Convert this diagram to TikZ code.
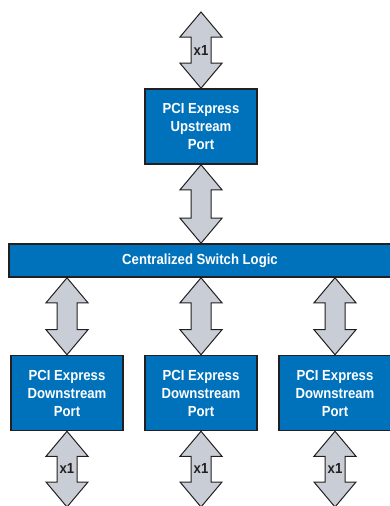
\documentclass[tikz,border=0pt]{standalone}
\usepackage{fontspec}
\setmainfont{Liberation Sans}[FakeStretch=0.9]
\usetikzlibrary{calc}
\definecolor{portblue}{RGB}{0,114,188}
\definecolor{linkgray}{RGB}{201,206,214}
\definecolor{edgeblack}{RGB}{35,31,32}
\tikzset{
  port/.style={draw=edgeblack, line width=1.6pt, fill=portblue, text=white,
    font=\bfseries\fontsize{14.6}{18}\selectfont, align=center,
    minimum width=112pt, minimum height=75pt, inner sep=0pt},
  link/.style={draw=edgeblack, line width=1pt, fill=linkgray,
    to path={let \p1=(\tikztostart), \p2=(\tikztotarget) in
      -- (\x1+21pt,\y1-25pt) -- (\x1+10pt,\y1-25pt) -- (\x1+10pt,\y2+25pt)
      -- (\x1+21pt,\y2+25pt) -- (\x2,\y2) -- (\x1-21pt,\y2+25pt)
      -- (\x1-10pt,\y2+25pt) -- (\x1-10pt,\y1-25pt) -- (\x1-21pt,\y1-25pt) -- cycle}},
  lanes/.style={text=edgeblack, font=\bfseries\fontsize{14.6}{16}\selectfont, inner sep=0pt}
}
\begin{document}
\begin{tikzpicture}[x=1pt,y=-1pt]
\useasboundingbox (0,0) rectangle (389,506);
% ports and switch logic
\node[port] (up) at (201,126.5) {PCI Express\\Upstream\\Port};
\node[port, minimum width=382pt, minimum height=33pt] (logic) at (200,260.5) {Centralized Switch Logic};
\node[port] (dn1) at (67,393) {PCI Express\\Downstream\\Port};
\node[port] (dn2) at (201,393) {PCI Express\\Downstream\\Port};
\node[port] (dn3) at (335,393) {PCI Express\\Downstream\\Port};
% free ends of the links
\coordinate (upend) at (201,12);
\coordinate (dn1end) at (67,507);
\coordinate (dn2end) at (201,507);
\coordinate (dn3end) at (335,507);
% links
\draw[link] (upend) to (up.north);
\draw[link] (up.south) to (up.south |- logic.north);
\draw[link] (logic.south -| dn1.north) to (dn1.north);
\draw[link] (logic.south -| dn2.north) to (dn2.north);
\draw[link] (logic.south -| dn3.north) to (dn3.north);
\draw[link] (dn1.south) to (dn1end);
\draw[link] (dn2.south) to (dn2end);
\draw[link] (dn3.south) to (dn3end);
% lane widths
\node[lanes] (w0) at (201,50) {x1};
\node[lanes] (w1) at (67,468) {x1};
\node[lanes] (w2) at (201,468) {x1};
\node[lanes] (w3) at (335,468) {x1};
\end{tikzpicture}
\end{document}
